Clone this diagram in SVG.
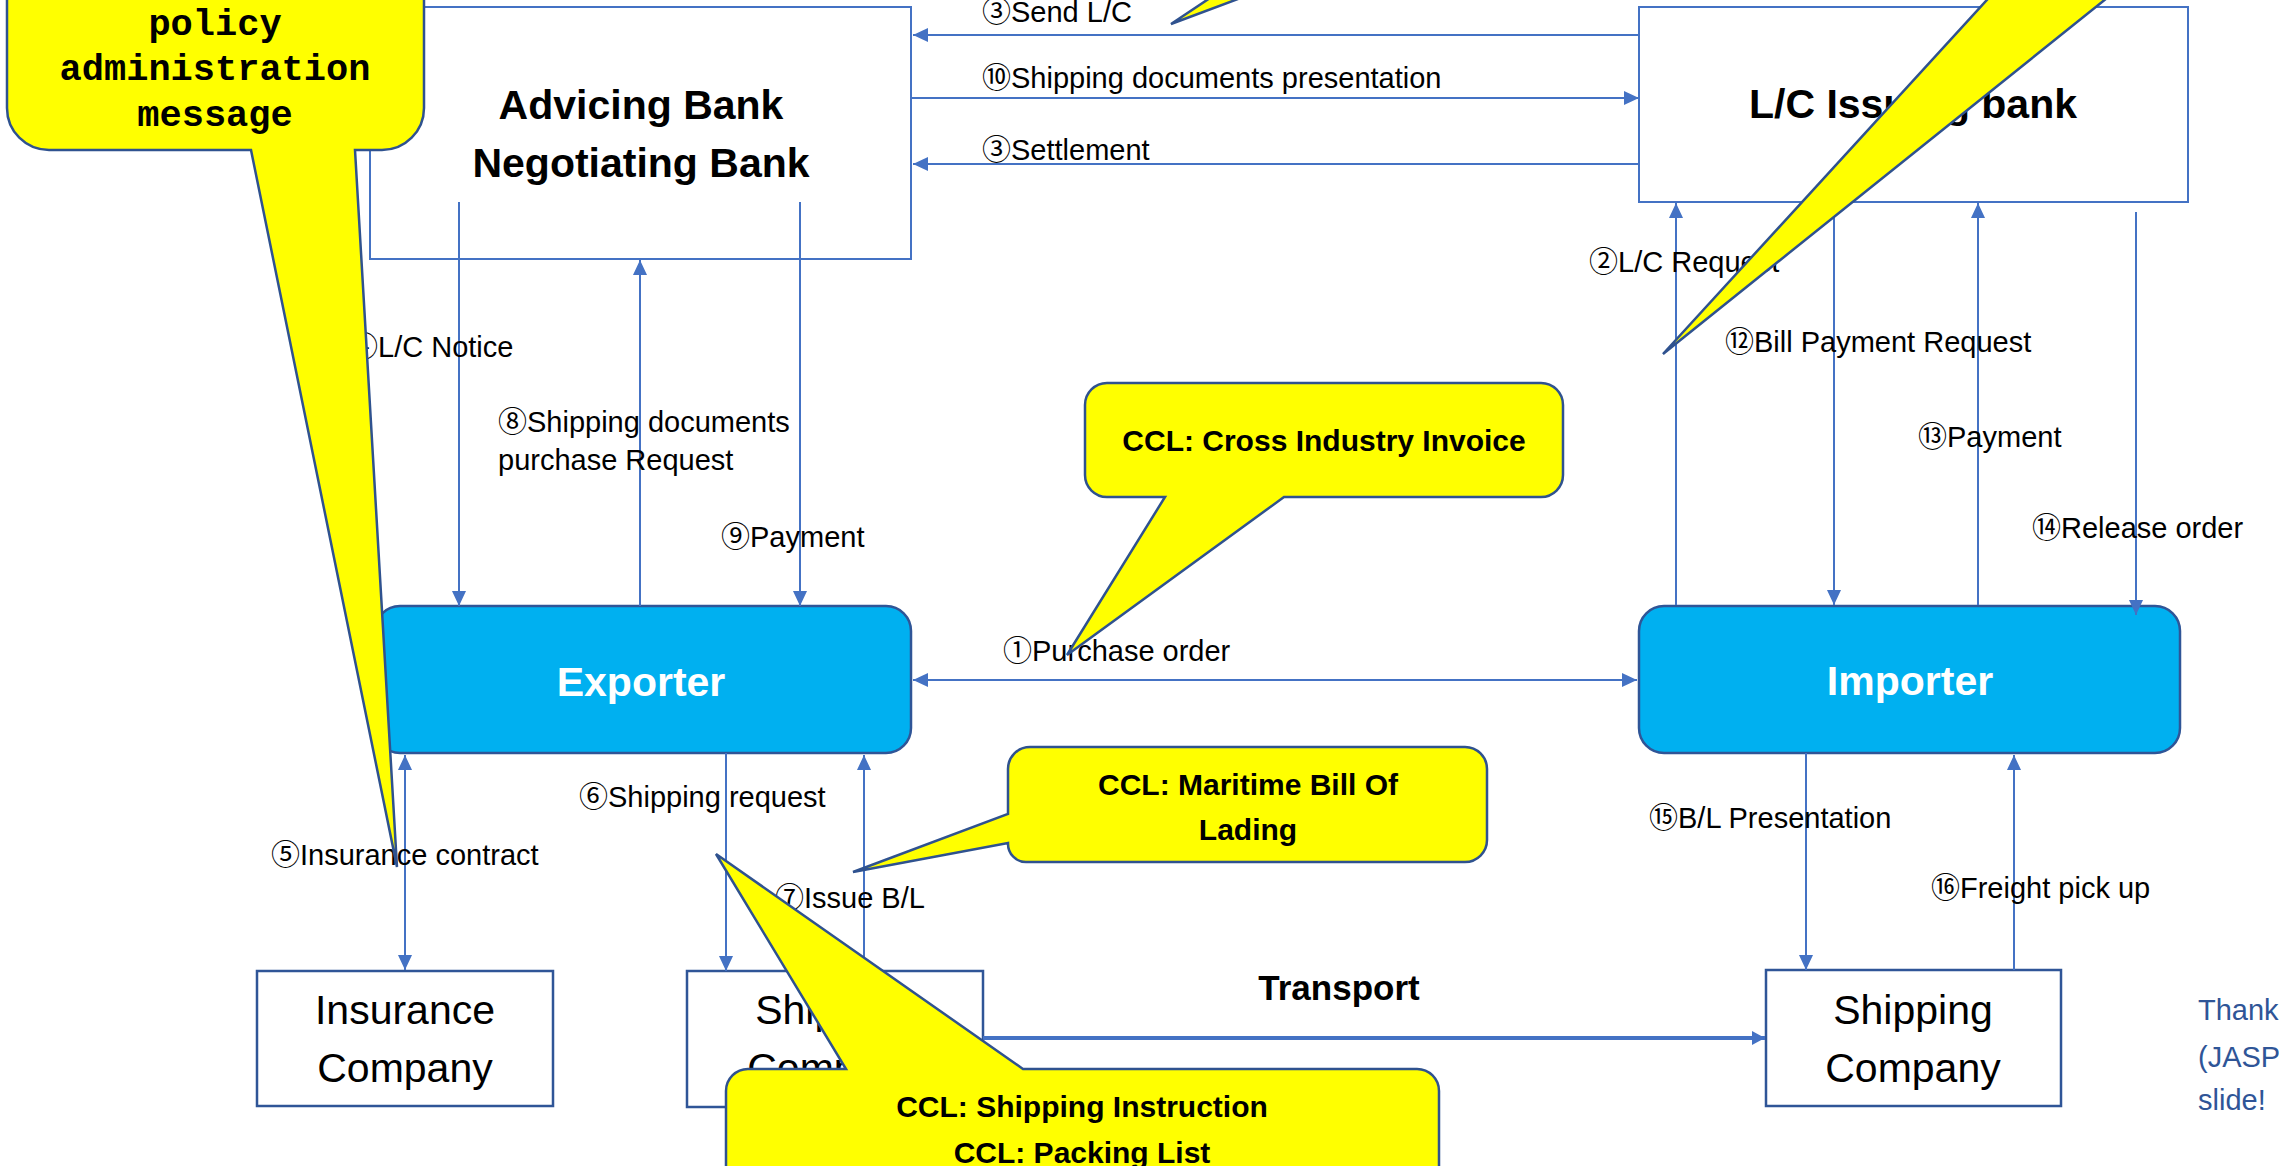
<svg xmlns="http://www.w3.org/2000/svg" width="2279" height="1166" viewBox="0 0 2279 1166">
<defs>
<style>
.lbl{font-family:"Liberation Sans","Noto Sans CJK JP",sans-serif;font-size:29px;fill:#000}
.big{font-family:"Liberation Sans",sans-serif;font-size:41px;font-weight:bold;text-anchor:middle;fill:#000}
.reg{font-family:"Liberation Sans",sans-serif;font-size:41px;text-anchor:middle;fill:#000}
.ccl{font-family:"Liberation Sans",sans-serif;font-size:30px;font-weight:bold;text-anchor:middle;fill:#000}
.mono{font-family:"Liberation Mono","Courier New",monospace;font-size:37px;font-weight:bold;text-anchor:middle;fill:#000}
.callout{fill:#FFFF00;stroke:#2F528F;stroke-width:2.5;stroke-linejoin:miter}
.conn{stroke:#4472C4;stroke-width:2;fill:none}
.bank{fill:#fff;stroke:#4472C4;stroke-width:2}
.box{fill:#fff;stroke:#2F5597;stroke-width:2.5}
.party{fill:#00B0F0;stroke:#2F5597;stroke-width:2.5}
.thank{font-family:"Liberation Sans",sans-serif;font-size:29px;fill:#2F5597}
</style>
<marker id="ah" markerUnits="userSpaceOnUse" markerWidth="16" markerHeight="16" viewBox="0 0 16 16" refX="15" refY="8" orient="auto-start-reverse">
<path d="M0,1 L15,8 L0,15 Z" fill="#4472C4"/>
</marker>
<marker id="ahs" markerUnits="userSpaceOnUse" markerWidth="14" markerHeight="14" viewBox="0 0 14 14" refX="13" refY="7" orient="auto">
<path d="M0,0 L13,7 L0,14 Z" fill="#4472C4"/>
</marker>
</defs>
<rect x="0" y="0" width="2279" height="1166" fill="#fff"/>

<g id="advicing-bank">
<rect class="bank" x="370" y="7" width="541" height="252"/>
<text class="big" x="641" y="119">Advicing Bank</text>
<text class="big" x="641" y="177">Negotiating Bank</text>
</g>
<g id="issuing-bank">
<rect class="bank" x="1639" y="7" width="549" height="195"/>
<text class="big" x="1913" y="118">L/C Issuing bank</text>
</g>
<g id="exporter">
<rect class="party" x="375" y="606" width="536" height="147" rx="25"/>
<text class="big" x="641" y="696" style="fill:#fff">Exporter</text>
</g>
<g id="importer">
<rect class="party" x="1639" y="606" width="541" height="147" rx="25"/>
<text class="big" x="1910" y="695" style="fill:#fff">Importer</text>
</g>
<g id="insurance-company">
<rect class="box" x="257" y="971" width="296" height="135"/>
<text class="reg" x="405" y="1024">Insurance</text>
<text class="reg" x="405" y="1082">Company</text>
</g>
<g id="shipping-company-export">
<rect class="box" x="687" y="971" width="296" height="136"/>
<text class="reg" x="835" y="1024">Shipping</text>
<text class="reg" x="835" y="1082">Company</text>
</g>
<g id="shipping-company-import">
<rect class="box" x="1766" y="970" width="295" height="136"/>
<text class="reg" x="1913" y="1024">Shipping</text>
<text class="reg" x="1913" y="1082">Company</text>
</g>

<g id="connectors">
<path class="conn" d="M1639,35 H913" marker-end="url(#ah)"/>
<path class="conn" d="M911,98 H1639" marker-end="url(#ah)"/>
<path class="conn" d="M1639,164 H913" marker-end="url(#ah)"/>
<path class="conn" d="M459,202 V606" marker-end="url(#ah)"/>
<path class="conn" d="M640,606 V260" marker-end="url(#ah)"/>
<path class="conn" d="M800,202 V606" marker-end="url(#ah)"/>
<path class="conn" d="M913,680 H1637" marker-start="url(#ah)" marker-end="url(#ah)"/>
<path class="conn" d="M1676,605 V203" marker-end="url(#ah)"/>
<path class="conn" d="M1834,202 V605" marker-end="url(#ah)"/>
<path class="conn" d="M1978,605 V203" marker-end="url(#ah)"/>
<path class="conn" d="M2136,212 V615" marker-end="url(#ah)"/>
<path class="conn" d="M405,755 V970" marker-start="url(#ah)" marker-end="url(#ah)"/>
<path class="conn" d="M726,753 V971" marker-end="url(#ah)"/>
<path class="conn" d="M864,971 V755" marker-end="url(#ah)"/>
<path class="conn" d="M1806,753 V970" marker-end="url(#ah)"/>
<path class="conn" d="M2014,970 V755" marker-end="url(#ah)"/>
<path class="conn" d="M983,1038 H1765" style="stroke-width:4" marker-end="url(#ahs)"/>
</g>

<g id="labels">
<text class="lbl" x="982" y="22">③Send L/C</text>
<text class="lbl" x="982" y="88">⑩Shipping documents presentation</text>
<text class="lbl" x="982" y="160">③Settlement</text>
<text class="lbl" x="349" y="357">④L/C Notice</text>
<text class="lbl" x="498" y="432">⑧Shipping documents</text>
<text class="lbl" x="498" y="470">purchase Request</text>
<text class="lbl" x="721" y="547">⑨Payment</text>
<text class="lbl" x="1003" y="661">①Purchase order</text>
<text class="lbl" x="1589" y="272">②L/C Request</text>
<text class="lbl" x="1725" y="352">⑫Bill Payment Request</text>
<text class="lbl" x="1918" y="447">⑬Payment</text>
<text class="lbl" x="2032" y="538">⑭Release order</text>
<text class="lbl" x="271" y="865">⑤Insurance contract</text>
<text class="lbl" x="579" y="807">⑥Shipping request</text>
<text class="lbl" x="775" y="908">⑦Issue B/L</text>
<text class="lbl" x="1649" y="828">⑮B/L Presentation</text>
<text class="lbl" x="1931" y="898">⑯Freight pick up</text>
<text class="ccl" x="1339" y="1000" style="font-size:35px">Transport</text>
<text class="thank" x="2198" y="1020">Thank</text>
<text class="thank" x="2198" y="1067">(JASP</text>
<text class="thank" x="2198" y="1110">slide!</text>
</g>

<g id="callout-policy">
<path class="callout" d="M7,-80 H424 V108 A42,42 0 0 1 382,150 H355 L397,867 L251,150 H49 A42,42 0 0 1 7,108 Z"/>
<text class="mono" x="215" y="35">policy</text>
<text class="mono" x="215" y="80">administration</text>
<text class="mono" x="215" y="126">message</text>
</g>
<g id="callout-sendlc">
<path class="callout" d="M1262,-10 L1171,24 L1222,-10 Z"/>
</g>
<g id="callout-issuing">
<path class="callout" d="M2117,-10 L1663,354 L1996,-10 Z"/>
</g>
<g id="callout-invoice">
<path class="callout" d="M1107,383 H1541 A22,22 0 0 1 1563,405 V475 A22,22 0 0 1 1541,497 H1284 L1067,655 L1165,497 H1107 A22,22 0 0 1 1085,475 V405 A22,22 0 0 1 1107,383 Z"/>
<text class="ccl" x="1324" y="451">CCL: Cross Industry Invoice</text>
</g>
<g id="callout-bol">
<path class="callout" d="M1030,747 H1465 A22,22 0 0 1 1487,769 V840 A22,22 0 0 1 1465,862 H1026 A18,18 0 0 1 1008,844 V843 L853,872 L1008,814 V769 A22,22 0 0 1 1030,747 Z"/>
<text class="ccl" x="1248" y="795">CCL: Maritime Bill Of</text>
<text class="ccl" x="1248" y="840">Lading</text>
</g>
<g id="callout-shipping-instruction">
<path class="callout" d="M748,1069 H846 L716,854 L1023,1069 H1417 A22,22 0 0 1 1439,1091 V1200 H726 V1091 A22,22 0 0 1 748,1069 Z"/>
<text class="ccl" x="1082" y="1117">CCL: Shipping Instruction</text>
<text class="ccl" x="1082" y="1163">CCL: Packing List</text>
</g>
</svg>
